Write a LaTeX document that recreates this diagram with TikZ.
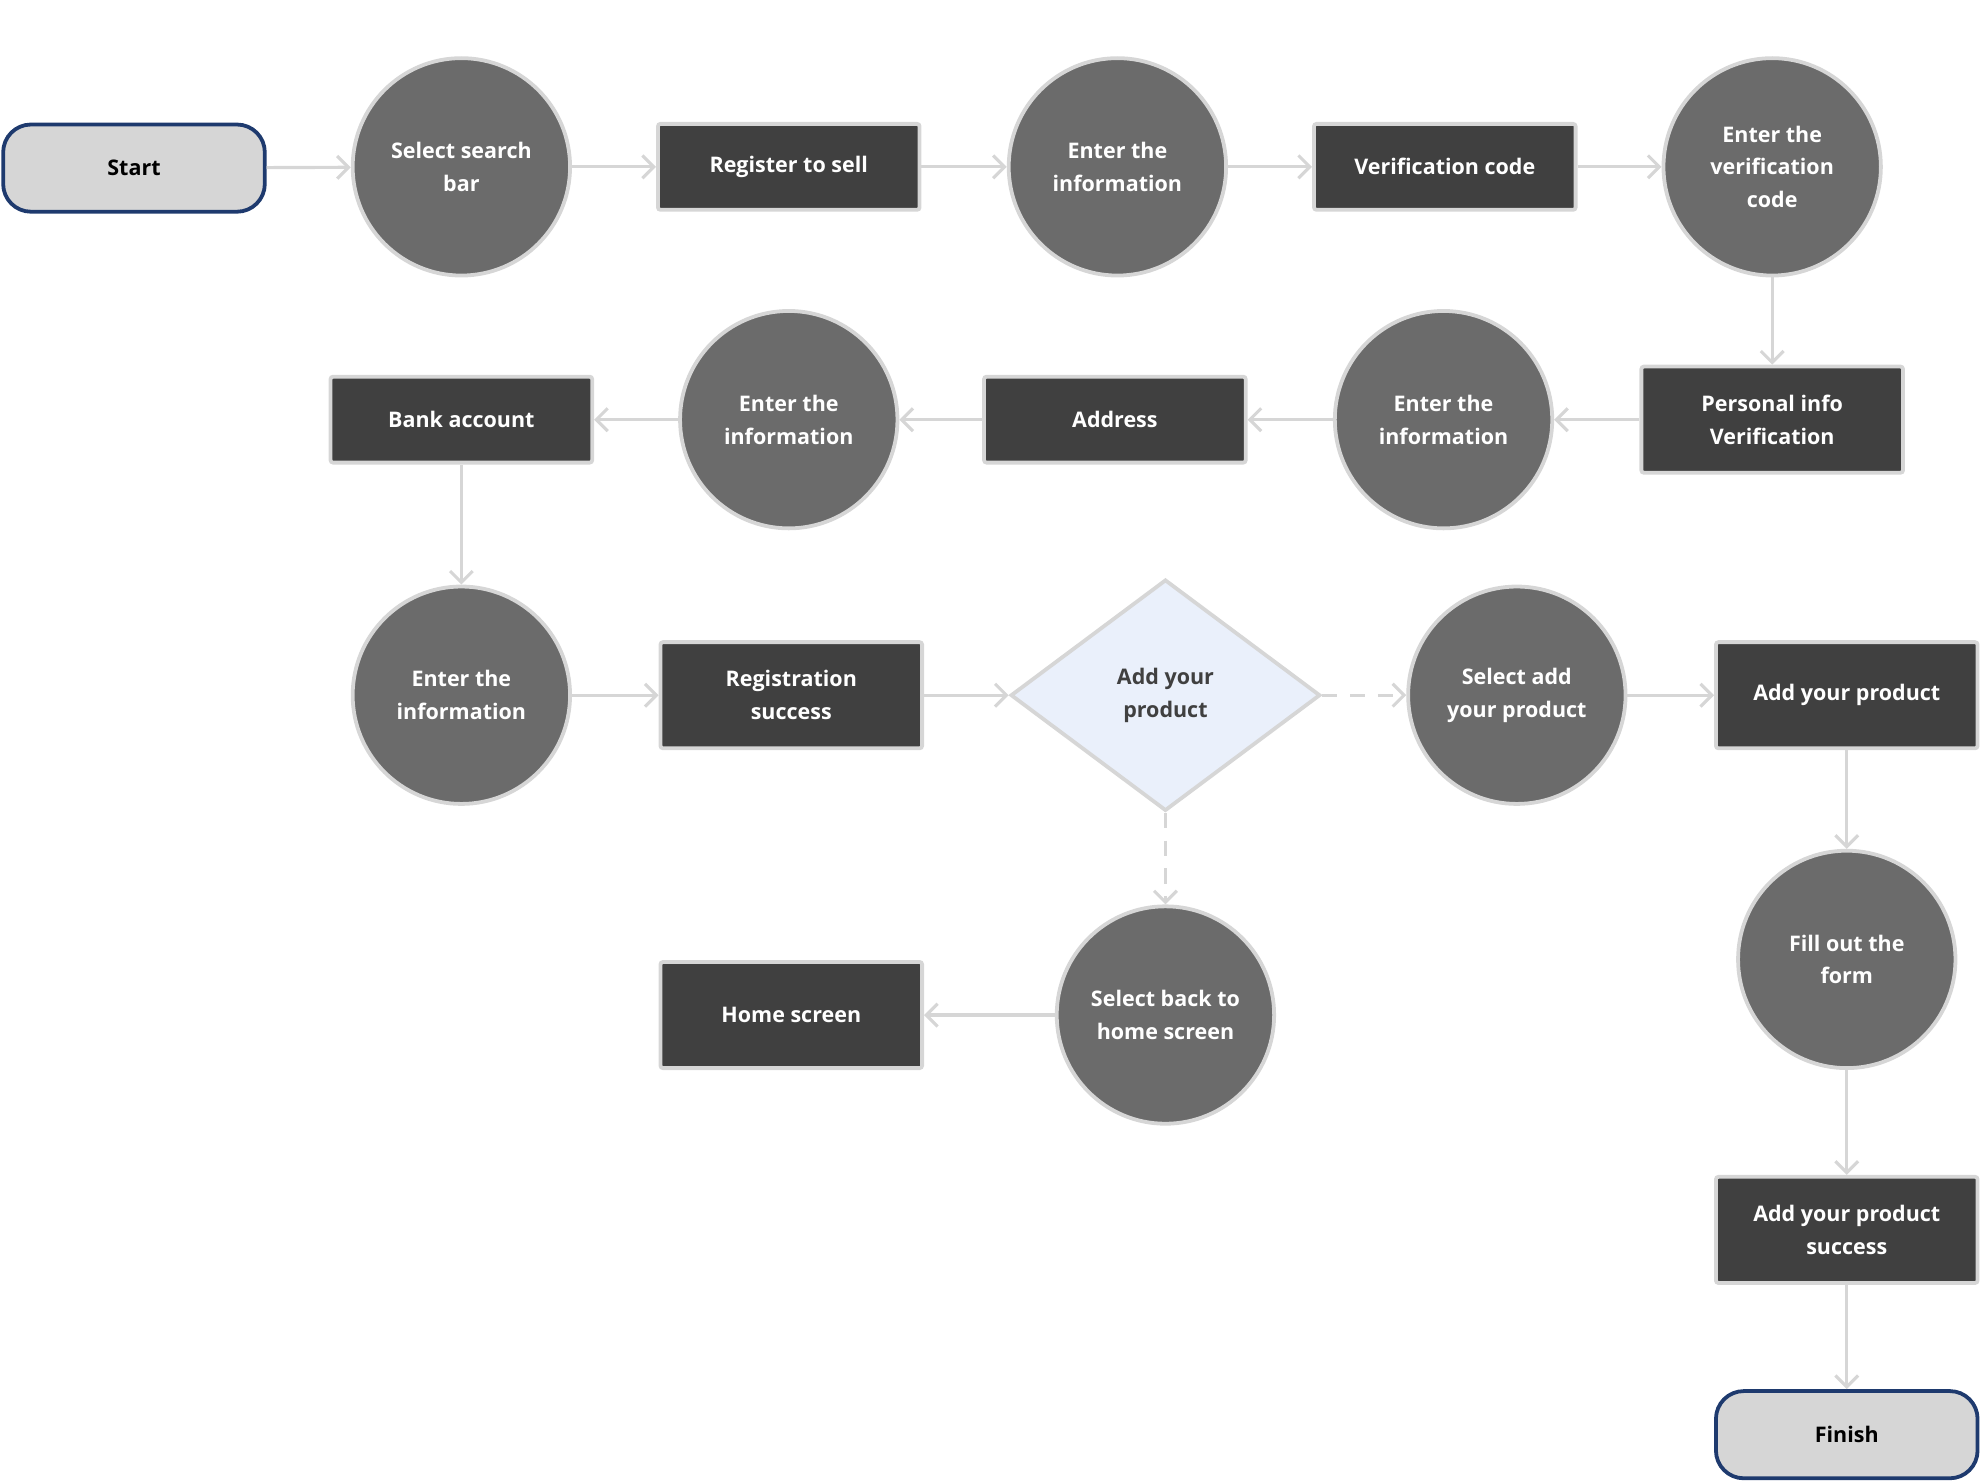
\documentclass[tikz,border=0pt]{standalone}
\usepackage{fontspec}
\setmainfont{Open Sans}
\usetikzlibrary{arrows.meta,shapes.geometric}
\definecolor{circ}{HTML}{6B6B6B}
\definecolor{boxc}{HTML}{404040}
\definecolor{edge}{HTML}{D6D6D6}
\definecolor{navy}{HTML}{1E3A6E}
\definecolor{dia}{HTML}{EAF0FB}
\begin{document}
\begin{tikzpicture}[x=1pt,y=-1pt,
  every node/.style={font=\fontsize{17}{26}\selectfont\bfseries, align=center},
  circ/.style={circle, fill=circ, draw=edge, line width=3pt, minimum size=172pt, inner sep=0pt, text=white},
  boxn/.style={rectangle, rounded corners=2pt, fill=boxc, draw=edge, line width=3pt, minimum width=207pt, minimum height=68pt, inner sep=0pt, text=white},
  tall/.style={boxn, minimum height=84pt},
  term/.style={rectangle, rounded corners=22pt, fill=edge, draw=navy, line width=3pt, minimum width=207pt, minimum height=69pt, text=black},
  diam/.style={diamond, aspect=1.34, fill=dia, draw=edge, line width=3pt, minimum width=245pt, minimum height=183pt, inner sep=0pt, text=boxc},
  arr/.style={draw=edge, line width=2.5pt, -{Straight Barb[length=9pt,width=18pt,line width=2.5pt]}},
  darr/.style={arr, dash pattern=on 12pt off 10pt}]
\useasboundingbox (0,0) rectangle (1568,1172);
\node[term] (start) at (106,133) {Start};
\node[circ] (c1) at (365,132) {Select search\\bar};
\node[boxn] (b1) at (624,132) {Register to sell};
\node[circ] (c2) at (884,132) {Enter the\\information};
\node[boxn] (b2) at (1143,132) {Verification code};
\node[circ] (c3) at (1402,132) {Enter the\\verification\\code};
\node[tall] (b3) at (1402,332) {Personal info\\Verification};
\node[circ] (c4) at (1142,332) {Enter the\\information};
\node[boxn] (b4) at (882,332) {Address};
\node[circ] (c5) at (624,332) {Enter the\\information};
\node[boxn] (b5) at (365,332) {Bank account};
\node[circ] (c6) at (365,550) {Enter the\\information};
\node[tall] (b6) at (626,550) {Registration\\success};
\node[diam] (d) at (922,550) {Add your\\product};
\node[circ] (c7) at (1200,550) {Select add\\your product};
\node[tall] (b7) at (1461,550) {Add your product};
\node[circ] (c8) at (1461,759) {Fill out the\\form};
\node[tall] (b8) at (1461,973) {Add your product\\success};
\node[term] (fin) at (1461,1135) {Finish};
\node[circ] (c9) at (922,803) {Select back to\\home screen};
\node[tall] (b9) at (626,803) {Home screen};
\draw[arr] (start) -- (c1);
\draw[arr] (c1) -- (b1);
\draw[arr] (b1) -- (c2);
\draw[arr] (c2) -- (b2);
\draw[arr] (b2) -- (c3);
\draw[arr] (c3) -- (b3);
\draw[arr] (b3) -- (c4);
\draw[arr] (c4) -- (b4);
\draw[arr] (b4) -- (c5);
\draw[arr] (c5) -- (b5);
\draw[arr] (b5) -- (c6);
\draw[arr] (c6) -- (b6);
\draw[arr] (b6) -- (d);
\draw[darr] (d) -- (c7);
\draw[arr] (c7) -- (b7);
\draw[arr] (b7) -- (c8);
\draw[arr] (c8) -- (b8);
\draw[arr] (b8) -- (fin);
\draw[darr] (d) -- (c9);
\draw[arr] (c9) -- (b9);
\end{tikzpicture}
\end{document}
